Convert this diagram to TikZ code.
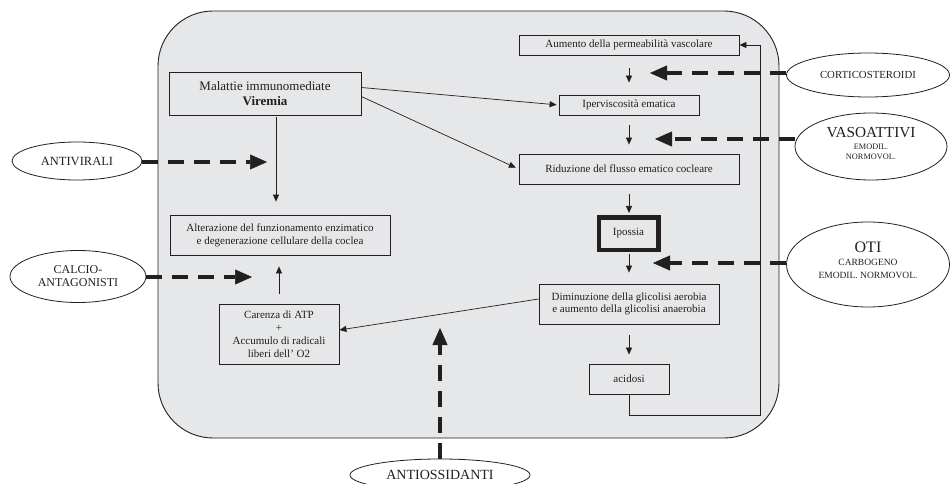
\documentclass[tikz,border=0pt]{standalone}
\usepackage{fontspec}
\setmainfont{Liberation Serif}
\usetikzlibrary{arrows.meta,shapes.geometric}
\definecolor{bg}{HTML}{E6E7E8}
\definecolor{ink}{HTML}{231F20}
\begin{document}
\begin{tikzpicture}[x=1pt,y=-1pt,
  box/.style={draw=ink,line width=0.8pt,rectangle,inner sep=0pt,align=center,font=\fontsize{11}{12.7}\selectfont,text=ink},
  oval/.style={draw=ink,line width=0.8pt,ellipse,inner sep=0pt,align=center,text=ink},
  arr/.style={draw=ink,line width=0.7pt,-{Triangle[length=7pt,width=6pt]}},
  darr/.style={draw=ink,line width=4pt,dash pattern=on 16pt off 10pt,-{Triangle[length=17pt,width=15pt,line width=0.5pt]}},
]
\useasboundingbox (0,0) rectangle (951,484);
% panel
\node[draw=ink,fill=bg,line width=0.9pt,rounded corners=55pt,minimum width=621pt,minimum height=427pt,inner sep=0pt] (panel) at (468.5,224.5) {};

% boxes
\node[box,minimum width=192pt,minimum height=43pt,font=\fontsize{13}{14.5}\selectfont] (mal) at (265,93.5) {Malattie immunomediate\\\textbf{Viremia}};
\node[box,minimum width=220pt,minimum height=20pt] (aum) at (629,45) {Aumento della permeabilità vascolare};
\node[box,minimum width=140pt,minimum height=20pt] (ipv) at (629,105) {Iperviscosità ematica};
\node[box,minimum width=220pt,minimum height=30pt] (rid) at (629,169) {Riduzione del flusso ematico cocleare};
\node[box,line width=4.5pt,minimum width=59.5pt,minimum height=32.5pt] (ipo) at (628.5,233.5) {Ipossia};
\node[box,minimum width=180pt,minimum height=40pt] (dim) at (629,304) {Diminuzione della glicolisi aerobia\\e aumento della glicolisi anaerobia};
\node[box,minimum width=80pt,minimum height=30pt] (aci) at (629,379) {acidosi};
\node[box,minimum width=220pt,minimum height=40pt] (alt) at (280,235) {Alterazione del funzionamento enzimatico\\e degenerazione cellulare della coclea};
\node[box,minimum width=120pt,minimum height=60pt,font=\fontsize{11}{13}\selectfont] (car) at (279,334) {Carenza di ATP\\+\\Accumulo di radicali\\liberi dell' O2};

% ellipses
\node[oval,minimum width=130pt,minimum height=38pt,font=\fontsize{12.5}{14}\selectfont] (avir) at (77,161) {ANTIVIRALI};
\node[oval,minimum width=136pt,minimum height=52pt,font=\fontsize{12}{13}\selectfont] (calc) at (78,276.5) {CALCIO-\\ANTAGONISTI};
\node[oval,minimum width=180pt,minimum height=32pt,font=\fontsize{14}{16}\selectfont] (aox) at (440,475) {ANTIOSSIDANTI};
\node[oval,minimum width=163pt,minimum height=44pt,font=\fontsize{10.8}{12}\selectfont] (cort) at (868,75) {CORTICOSTEROIDI};
\node[oval,minimum width=152pt,minimum height=67pt,font=\fontsize{8.3}{10}\selectfont,text depth=6pt] (vaso) at (871,146.5) {{\fontsize{15.3}{16}\selectfont VASOATTIVI}\\[2.7pt]EMODIL.\\NORMOVOL.};
\node[oval,minimum width=163pt,minimum height=85pt,font=\fontsize{9.5}{13}\selectfont,text depth=9pt] (oti) at (868,264.5) {{\fontsize{16}{17}\selectfont OTI}\\CARBOGENO\\EMODIL. NORMOVOL.};

% helper coordinates
\coordinate (xma) at (276,0);
\coordinate (fb) at (760,415);
\coordinate (tcort) at (650,73);
\coordinate (tvaso) at (655,139);
\coordinate (toti) at (653,263);
\coordinate (tavir) at (267,162);
\coordinate (tcalc) at (252,277);
\coordinate (taox) at (440,328);

% thin arrows
\draw[arr,shorten <=2pt,shorten >=13pt] (mal.south -| xma) -- (alt.north -| xma);
\draw[arr,shorten <=13pt,shorten >=12pt] (aum) -- (ipv);
\draw[arr,shorten <=10pt,shorten >=9pt] (ipv) -- (rid);
\draw[arr,shorten <=10pt,shorten >=2pt] (rid.south) -- (rid.south |- ipo.north);
\draw[arr,shorten <=2pt,shorten >=11pt] (ipo.south -| dim.north) -- (dim.north);
\draw[arr,shorten <=11pt,shorten >=9pt] (dim) -- (aci);
\draw[arr,shorten <=10pt,shorten >=11pt] (car.north) -- (alt.south -| car.north);
\draw[arr,shorten >=2pt] ([yshift=6pt]mal.east) -- (ipv.west);
\draw[arr,shorten >=3pt] ([yshift=-3pt]mal.east) -- (rid.west);
\draw[arr] ([yshift=5pt]dim.west) -- ([yshift=4pt]car.east);
\draw[arr] (aci.south) |- (fb) |- (aum.east);

% dashed therapy arrows
\draw[darr] (cort.west |- tcort) -- (tcort);
\draw[darr] (vaso.west |- tvaso) -- (tvaso);
\draw[darr] (oti.west |- toti) -- (toti);
\draw[darr] (avir.east |- tavir) -- (tavir);
\draw[darr] (calc.east |- tcalc) -- (tcalc);
\draw[darr] (aox.north) -- (taox);
\end{tikzpicture}
\end{document}
